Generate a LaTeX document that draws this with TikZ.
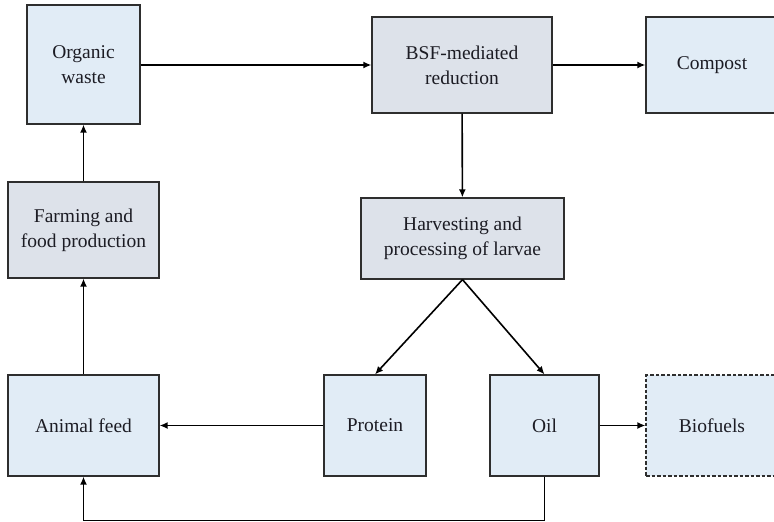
\documentclass[tikz,border=0pt]{standalone}
\usepackage{fontspec}
\setmainfont{Liberation Serif}
\usetikzlibrary{arrows.meta}
\definecolor{boxblue}{HTML}{E1ECF6}
\definecolor{boxgray}{HTML}{DDE2EA}
\definecolor{edge}{HTML}{2E2E2E}
\definecolor{ink}{HTML}{1C1C24}
\tikzset{
  proc/.style={draw=edge, line width=1.2pt, fill=boxblue, text=ink, align=center,
    inner sep=0pt, font=\fontsize{19.5}{25}\selectfont},
  stage/.style={proc, fill=boxgray},
  flow/.style={draw=black, line width=1.6pt, -{Latex[length=8pt,width=7pt]}}
}
\begin{document}
\begin{tikzpicture}[x=1pt,y=-1pt]
\useasboundingbox (0,0) rectangle (774,522);
\clip (0,0) rectangle (774,522);
% top row
\node[proc, minimum width=113pt, minimum height=119pt] (waste) at (83.5,64.5) {Organic\\waste};
\node[stage, minimum width=180pt, minimum height=96pt] (bsf) at (462,65) {BSF-mediated\\reduction};
\node[proc, minimum width=132pt, minimum height=96pt] (compost) at (712,65) {Compost};
% middle row
\node[stage, minimum width=151pt, minimum height=96pt] (farm) at (83.5,230) {Farming and\\food production};
\node[stage, minimum width=203pt, minimum height=81pt] (harvest) at (462.5,238.5) {Harvesting and\\processing of larvae};
% bottom row
\node[proc, minimum width=151pt, minimum height=101pt] (feed) at (83.5,425.5) {Animal feed};
\node[proc, minimum width=102pt, minimum height=101pt] (protein) at (375,425.5) {Protein};
\node[proc, minimum width=109pt, minimum height=101pt] (oil) at (544.5,425.5) {Oil};
\node[proc, dash pattern=on 3.5pt off 2pt, minimum width=132pt, minimum height=101pt] (biofuel) at (712,425.5) {Biofuels};
% connectors
\draw[flow] (waste.east |- bsf.west) -- (bsf.west);
\draw[flow] (bsf) -- (compost);
\draw[flow] (bsf) -- (harvest);
\draw[flow] (harvest.south) -- (protein.north);
\draw[flow] (harvest.south) -- (oil.north);
\draw[flow] (protein) -- (feed);
\draw[flow] (oil) -- (biofuel);
\draw[flow] (feed) -- (farm);
\draw[flow] (farm) -- (waste);
\coordinate (loop) at (0,520.5);
\draw[flow] (oil.south) -- (oil.south |- loop) -- (feed.south |- loop) -- (feed.south);
\end{tikzpicture}
\end{document}
